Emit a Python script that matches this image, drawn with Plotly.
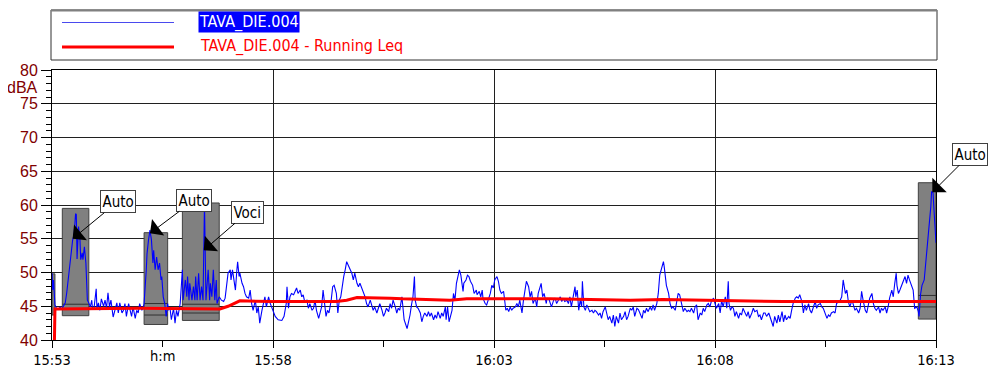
import plotly.graph_objects as go
import pandas as pd

BASE = pd.Timestamp("2024-01-01 15:53:00")

# ---- measured level (seconds after 15:53:00, dBA) ----
leq_sec = [0, 1, 2, 3, 4, 6, 9, 11, 13, 15, 18, 20, 22, 24, 26, 28, 30, 32, 33, 34, 36, 38, 39, 41, 42, 44, 46, 48, 50,
           52, 54, 55, 57, 60, 61, 63, 65, 67, 70, 72, 74, 76, 78, 80, 83, 86, 88, 90, 92, 95, 97, 99, 101, 104, 106,
           108, 110, 113, 115, 117, 119, 122, 124, 125, 128, 129, 131, 133, 135, 137, 138, 140, 142, 144, 146, 148,
           149, 151, 153, 155, 157, 158, 160, 162, 165, 167, 169, 171, 174, 177, 178, 181, 183, 184, 186, 187, 190,
           192, 194, 195, 197, 199, 201, 203, 205, 206, 207, 209, 210, 212, 214, 215, 217, 219, 221, 223, 224, 227,
           230, 233, 235, 237, 239, 242, 243, 245, 247, 249, 251, 252, 254, 255, 258, 260, 262, 264, 267, 269, 271,
           273, 276, 278, 280, 282, 285, 287, 289, 291, 294, 296, 300, 303, 307, 312, 315, 318, 319, 321, 323, 325,
           328, 330, 332, 334, 337, 339, 341, 343, 346, 348, 350, 353, 355, 357, 359, 362, 364, 366, 368, 370, 372,
           374, 376, 379, 381, 383, 386, 388, 390, 392, 395, 396, 398, 400, 402, 405, 407, 409, 411, 414, 416, 418,
           420, 423, 425, 427, 429, 432, 434, 436, 438, 441, 443, 445, 448, 450, 452, 454, 457, 459, 461, 463, 466,
           468, 470, 472, 475, 476, 478, 482, 484, 486, 488, 490, 492, 493, 495, 497, 500, 502, 504, 506, 509, 511,
           513, 515, 518, 520, 522, 524, 527, 529, 531, 534, 535, 537, 539, 540, 543, 545, 547, 549, 551, 553, 555,
           558, 559, 562, 564, 566, 568, 571, 573, 576, 577, 580, 582, 584, 585, 588, 590, 592, 595, 597, 599, 601,
           604, 606, 608, 610, 613, 615, 616, 618, 620, 622, 624, 626, 629, 631, 633, 635, 638, 640, 642, 644, 647,
           649, 651, 653, 656, 658, 660, 662, 664, 666, 668, 671, 672, 675, 678, 681, 683, 685, 687, 690, 692, 694,
           696, 699, 701, 703, 705, 708, 710, 711, 713, 715, 717, 719, 720, 722, 724, 726, 728, 730, 733, 735, 737,
           739, 742, 744, 746, 748, 751, 753, 755, 757, 760, 762, 764, 766, 769, 771, 773, 776, 778, 780, 782, 785,
           787, 789, 791, 794, 796, 798, 801, 803, 805, 807, 809, 812, 814, 816, 818, 821, 823, 825, 828, 830, 831,
           833, 834, 837, 839, 841, 843, 846, 848, 850, 852, 855, 857, 859, 862, 864, 866, 868, 871, 873, 875, 877,
           880, 882, 884, 886, 889, 891, 893, 895, 898, 900, 902, 905, 907, 909, 911, 914, 916, 918, 919, 921, 923,
           925, 927, 929, 932, 934, 936, 938, 941, 943, 945, 947, 950, 952, 954, 957, 959, 961, 963, 966, 968, 970,
           973, 975, 977, 979, 981, 984, 986, 988, 991, 993, 995, 997, 1000, 1002, 1004, 1006, 1009, 1011, 1013,
           1015, 1018, 1020, 1022, 1024, 1027, 1029, 1031, 1034, 1036, 1038, 1040, 1043, 1045, 1047, 1049, 1052,
           1054, 1056, 1058, 1061, 1063, 1065, 1068, 1070, 1072, 1074, 1077, 1079, 1081, 1083, 1086, 1088, 1090,
           1092, 1095, 1097, 1099, 1101, 1104, 1106, 1108, 1110, 1113, 1115, 1117, 1119, 1122, 1124, 1126, 1128,
           1131, 1133, 1135, 1137, 1140, 1142, 1144, 1146, 1147, 1149, 1151, 1153, 1155, 1158, 1160, 1162, 1164,
           1167, 1169, 1171, 1174, 1176, 1177, 1179, 1181, 1184, 1186, 1188, 1189, 1191, 1193, 1194, 1196, 1197,
           1198, 1199, 1200]
leq_db = [49.9, 47.4, 48.9, 45.9, 45.2, 44.7, 44.6, 44.9, 44.6, 44.9, 45.5, 47.0, 48.9, 50.5, 52.3, 54.8, 55.6, 58.7,
          58.6, 52.0, 56.8, 54.8, 51.9, 52.9, 51.9, 53.8, 51.4, 45.9, 45.5,
          44.9, 45.9, 44.6, 44.7, 47.6, 44.7, 45.5, 44.4, 46.1, 45.0, 45.9, 44.7, 47.0, 44.9, 45.9, 43.4, 44.7, 45.5,
          44.0, 45.5, 44.0, 44.4, 45.4, 43.5, 45.4, 44.4, 43.5, 44.9, 43.2, 44.4, 44.0, 45.4, 44.4, 44.9, 45.4, 50.4,
          52.8, 54.8, 56.3, 54.8, 51.4, 53.3, 50.4, 52.3, 50.4, 51.4, 48.9, 49.4, 46.4, 45.4, 43.5, 45.4, 44.4, 44.9,
          43.0, 44.7, 42.5, 44.4, 43.5, 45.4, 50.4, 45.9, 48.9, 46.4, 49.4, 45.9, 48.4, 45.9, 47.9, 45.9, 49.4, 45.9,
          49.9, 45.9, 47.9, 45.9, 53.3, 60.2, 45.9, 47.9, 50.4, 45.9, 48.4, 46.4, 50.4, 45.9, 48.9, 45.4, 46.4,
          45.9, 45.7, 46.2, 47.9, 49.9, 50.4, 48.9, 50.4, 48.4, 47.4, 50.4, 51.6, 49.4, 49.9, 48.4, 47.9, 46.9, 46.4,
          46.2, 47.4, 45.4, 44.4, 45.9, 44.0, 44.9, 42.5, 44.4, 45.4, 46.4, 44.9, 46.4, 45.5, 44.4, 43.5, 43.0, 42.9,
          43.5, 45.4, 47.9, 44.7, 46.4, 46.9, 46.7, 47.2, 47.7, 46.9, 47.4, 46.4, 46.7, 45.7, 45.9, 44.7, 45.4, 44.4,
          44.7, 45.9, 44.4, 43.2, 44.0, 44.9, 47.4, 44.9, 43.5, 44.4, 44.0, 45.9, 47.9, 48.1, 46.9, 44.0, 45.9, 46.4,
          49.1, 49.4, 50.4, 51.6, 51.1, 50.4, 49.9, 48.9, 49.9, 48.4, 47.9, 48.4, 47.9, 46.9, 46.4, 45.4, 44.9, 45.9,
          45.2, 44.4, 44.9, 44.0, 44.7, 45.4, 44.4, 43.5, 44.0, 44.7, 44.2, 45.4, 44.7, 45.9, 44.9, 44.0, 44.7, 44.4,
          46.4, 45.4, 43.0, 41.7, 42.5, 43.7, 45.2, 46.4, 49.4, 45.9, 44.9, 44.7, 44.0, 42.7, 43.5, 44.0, 43.5, 44.2,
          43.5, 44.0, 43.0, 43.7, 43.2, 44.2, 43.2, 44.0, 43.5, 44.9, 43.0, 44.9, 42.7, 43.2, 44.4, 46.9, 45.9, 48.4,
          49.4, 50.4, 49.6, 47.2, 48.4, 48.9, 49.6, 49.4, 48.7, 48.1, 46.9, 47.4, 46.7, 47.2, 46.4, 47.4, 46.2, 45.4,
          45.2, 45.9, 46.9, 48.1, 47.7, 48.9, 49.4, 48.7, 47.4, 46.9, 47.2, 45.4, 44.4, 44.7, 44.2, 44.9, 44.4, 44.7,
          44.9, 45.4, 44.9, 45.9, 44.0, 45.9, 47.4, 48.7, 47.9, 46.4, 47.2, 45.4, 46.2, 44.9, 46.9, 47.9, 48.4, 46.4,
          46.9, 45.4, 46.2, 45.9, 44.9, 45.9, 46.2, 45.4, 45.9, 46.4, 45.7, 46.2, 45.7, 45.9, 45.4, 46.4, 44.9, 46.9,
          47.9, 46.4, 47.4, 44.4, 45.9, 44.9, 48.7, 44.9, 44.4, 45.2, 44.7, 44.2, 44.4, 44.0, 44.4, 44.2, 43.7, 44.0,
          43.2, 44.2, 44.9, 44.0, 43.0, 43.5, 42.5, 43.7, 42.0, 43.5, 42.5, 44.0, 43.0, 43.5, 44.2, 43.0, 43.5, 44.7,
          44.4, 44.9, 43.5, 44.7, 44.5, 44.0, 43.2, 44.4, 44.0, 44.7, 44.2, 44.9, 44.4, 45.2, 44.4, 45.4, 46.9, 49.6,
          50.9, 51.6, 50.9, 48.4, 48.1, 46.9, 45.4, 44.7, 44.9, 44.4, 45.9, 46.9, 46.7, 44.9, 44.2, 44.7, 44.2, 44.4,
          44.2, 44.7, 44.0, 44.9, 45.2, 43.0, 44.0, 43.7, 44.7, 44.2, 45.2, 45.4, 44.9, 45.7, 46.2, 45.4, 44.7, 45.4,
          44.0, 45.9, 44.9, 46.4, 44.7, 48.7, 45.4, 44.4, 44.9, 44.7, 43.5, 44.2, 43.2, 44.0, 43.7, 44.7, 44.0, 43.5,
          44.2, 43.2, 44.0, 44.7, 44.2, 44.4, 43.5, 43.7, 43.0, 44.0, 44.0, 43.5, 44.0, 43.2, 42.7, 42.0, 43.5, 42.5,
          43.7, 42.7, 44.2, 42.7, 43.7, 43.0, 43.5, 43.2, 44.4, 45.4, 46.2, 46.4, 46.2, 46.7, 45.7, 44.0, 45.2, 44.4,
          45.4, 44.4, 44.0, 44.9, 45.7, 44.7, 45.2, 45.4, 44.9, 44.7, 44.0, 43.2, 43.7, 43.5, 44.0, 44.2, 44.0, 45.4,
          45.7, 45.9, 46.4, 48.9, 46.9, 47.4, 45.7, 44.9, 45.9, 44.9, 44.4, 44.7, 44.0, 44.7, 47.2, 45.9, 44.4, 44.0,
          44.9, 46.2, 46.9, 45.4, 44.7, 44.4, 44.9, 44.0, 44.7, 44.4, 44.9, 44.0, 44.9, 46.2, 47.4, 46.4, 48.4, 49.9,
          48.1, 46.9, 47.4, 47.9, 48.4, 49.4, 48.4, 49.6, 48.9, 47.9, 47.4, 44.7, 44.9, 44.2, 43.5, 46.7, 48.1, 48.9,
          51.4, 52.8, 54.8, 57.3, 59.8, 62.0, 61.8, 59.8, 57.3, 54.6, 54.4]

# ---- running Leq ----
run_sec = [3, 4, 120, 228, 239, 246, 255, 300, 386, 400, 414, 459, 476, 540, 563, 676, 785, 829, 880, 952, 992, 1200]
run_db = [38.0, 44.6, 44.7, 44.6, 45.0, 45.4, 45.8, 45.7, 45.7, 45.9, 46.3, 46.2, 46.1, 45.9, 46.1, 46.1, 45.9, 46.0,
          45.9, 45.8, 45.7, 45.7]

# ---- marked events ----
mark_start_sec = [0, 14, 125, 177, 1176]
mark_end_sec = [4, 50, 157, 227, 1200]
mark_top_db = [49.8, 59.5, 55.9, 60.3, 63.3]
mark_bottom_db = [43.7, 43.6, 42.3, 42.9, 43.1]
mark_inner_db = [[], [45.3], [45.4, 43.7], [45.3, 44.0], [46.6, 44.9]]

note_text = ["Auto", "Auto", "Voci", "Auto"]
note_sec = [28, 133, 206, 1195]
note_db = [55.0, 55.8, 53.3, 61.9]

y_ticks = [40, 45, 50, 55, 60, 65, 70, 75, 80]
x_tick_sec = [0, 300, 600, 900, 1200]
x_tick_text = ["15:53", "15:58", "16:03", "16:08", "16:13"]
x_minor_sec = [150, 450, 750, 1050]
unit_label_sec = 150

series_names = ["TAVA_DIE.004", "TAVA_DIE.004 - Running Leq"]

# label-box offsets from arrow tip (pixels) - layout only
note_offset_px = [(45, -37), (44, -33), (44, -38), (38, -38)]


def t(s):
    return BASE + pd.Timedelta(seconds=s)


NARROW = "DejaVu Sans Condensed, Liberation Sans Narrow, Liberation Sans, sans-serif"
ARIAL = "Liberation Sans, Arial, sans-serif"
DARKRED = "#800000"

fig = go.Figure()
fig.add_trace(go.Scatter(x=[t(s) for s in leq_sec], y=leq_db, mode="lines",
                         line=dict(color="#0000ff", width=1.1), name=series_names[0]))
fig.add_trace(go.Scatter(x=[t(s) for s in run_sec], y=run_db, mode="lines",
                         line=dict(color="#ff0000", width=3), name=series_names[1]))

shapes = []
for s0, s1, top, bot, inner in zip(mark_start_sec, mark_end_sec, mark_top_db, mark_bottom_db, mark_inner_db):
    shapes.append(dict(type="rect", xref="x", yref="y", x0=t(s0), x1=t(s1), y0=bot, y1=top,
                       fillcolor="#808080", line=dict(color="#404040", width=1), layer="between"))
    for v in inner:
        shapes.append(dict(type="line", xref="x", yref="y", x0=t(s0), x1=t(s1), y0=v, y1=v,
                           line=dict(color="#303030", width=1), layer="between"))

# page is offset by the 8px body margin; plot area sits at x 52..936, y 70..340 on the page
PW, PH = 884.0, 270.0


def px(xp):
    return (xp - 52) / PW


def py(yp):
    return (340 - yp) / PH


shapes.append(dict(type="rect", xref="paper", yref="paper", x0=px(51), x1=px(937), y0=py(60), y1=py(10),
                   line=dict(color="#303030", width=1), fillcolor="white"))
shapes.append(dict(type="line", xref="paper", yref="paper", x0=px(51), x1=px(937), y0=py(10.5), y1=py(10.5),
                   line=dict(color="#808080", width=2)))
shapes.append(dict(type="line", xref="paper", yref="paper", x0=px(62), x1=px(174), y0=py(22.5), y1=py(22.5),
                   line=dict(color="#4a4aee", width=1)))
shapes.append(dict(type="line", xref="paper", yref="paper", x0=px(62), x1=px(174), y0=py(47), y1=py(47),
                   line=dict(color="#ff0000", width=3)))

annotations = []
annotations.append(dict(xref="paper", yref="paper", x=px(198), y=py(22), xanchor="left", yanchor="middle",
                        text=series_names[0], showarrow=False, bgcolor="#0000ff", borderpad=0,
                        font=dict(family=NARROW, size=16, color="white")))
annotations.append(dict(xref="paper", yref="paper", x=px(198), y=py(46), xanchor="left", yanchor="middle",
                        text=series_names[1], showarrow=False,
                        font=dict(family=NARROW, size=16, color="#ff0000")))
annotations.append(dict(xref="paper", yref="paper", x=px(40), y=py(87), xanchor="right", yanchor="middle",
                        text="dBA", showarrow=False, font=dict(family=ARIAL, size=16, color=DARKRED)))
annotations.append(dict(xref="x", yref="paper", x=t(unit_label_sec), y=py(356), xanchor="center",
                        yanchor="middle", text="h:m", showarrow=False,
                        font=dict(family=NARROW, size=14.5, color="black")))
for txt, s, v, (oax, oay) in zip(note_text, note_sec, note_db, note_offset_px):
    annotations.append(dict(xref="x", yref="y", x=t(s), y=v, text=txt, showarrow=True,
                            ax=oax, ay=oay, arrowhead=1, arrowsize=3.4, arrowwidth=1, arrowcolor="black",
                            standoff=0, bgcolor="white", bordercolor="#404040", borderwidth=1, borderpad=1.5,
                            font=dict(family=NARROW, size=15, color="black")))

fig.update_layout(
    width=980, height=367,
    margin=dict(l=44, r=52, t=62, b=35, autoexpand=False),
    paper_bgcolor="white", plot_bgcolor="white",
    showlegend=False,
    shapes=shapes, annotations=annotations,
    xaxis=dict(type="date", range=[t(0), t(1200)], automargin=False,
               tickmode="array", tickvals=[t(s) for s in x_tick_sec], ticktext=x_tick_text,
               ticks="outside", ticklen=7, tickcolor="black",
               showgrid=True, gridcolor="#202020", gridwidth=1,
               showline=True, linecolor="black", linewidth=1, mirror=True,
               zeroline=False,
               tickfont=dict(family=NARROW, size=14.5, color="black"),
               minor=dict(tickmode="array", tickvals=[t(s) for s in x_minor_sec],
                          ticks="outside", ticklen=6, tickcolor="black", showgrid=False)),
    yaxis=dict(range=[40, 80], tickmode="array", tickvals=y_ticks, automargin=False,
               ticks="outside", ticklen=10, tickcolor="black",
               showgrid=True, gridcolor="#202020", gridwidth=1,
               showline=True, linecolor="black", linewidth=1, mirror=True,
               zeroline=False,
               tickfont=dict(family=ARIAL, size=16, color=DARKRED),
               minor=dict(dtick=1, ticks="outside", ticklen=5, tickcolor="black", showgrid=False)),
)

fig.write_html("out.html")
